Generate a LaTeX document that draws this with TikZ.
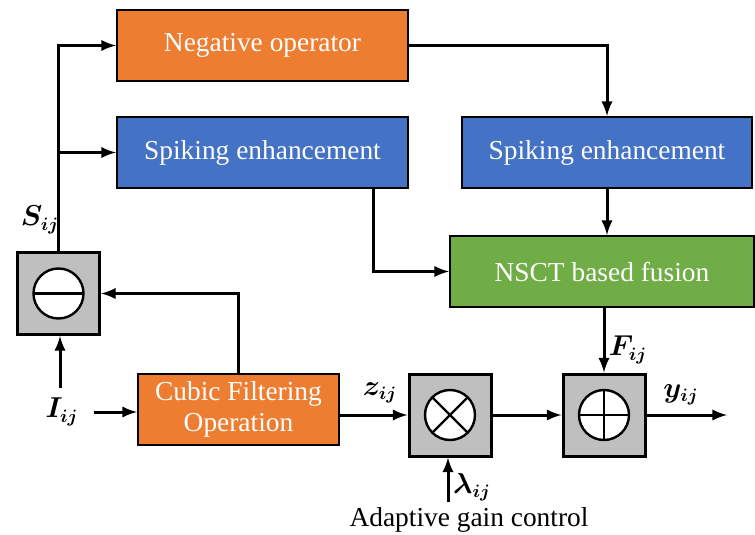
\documentclass[tikz,border=0pt]{standalone}
\usepackage{fontspec}
\setmainfont{Liberation Serif}
\usepackage{amsmath}
\usepackage{bm}
\usepackage{tikz}
\usetikzlibrary{calc}

\definecolor{boxorange}{HTML}{ED7D31}
\definecolor{boxblue}{HTML}{4472C4}
\definecolor{boxgreen}{HTML}{70AD47}
\definecolor{opgrey}{HTML}{BFBFBF}

\tikzset{
    block/.style={draw=black, line width=1pt, minimum height=35.5pt, inner sep=0pt,
        text=white, align=center, font=\rmfamily\fontsize{13.7}{15.5}\selectfont},
    opbox/.style={draw=black, line width=1.5pt, fill=opgrey, minimum size=41pt, inner sep=0pt},
    flow/.style={->, >=latex, line width=1.5pt},
    sym/.style={font=\fontsize{13.5}{15}\selectfont}
}

\begin{document}
\begin{tikzpicture}[x=0.5pt, y=-0.5pt]
        \useasboundingbox (0,0) rectangle (755,535);

        % upper blocks
        \node[block, fill=boxorange, minimum width=145.5pt] (neg) at (262.5, 45.5) {Negative operator};
        \node[block, fill=boxblue, minimum width=145.5pt] (spkL) at (262.5, 152.5) {Spiking enhancement};
        \node[block, fill=boxblue, minimum width=145pt] (spkR) at (607, 152.5) {Spiking enhancement};
        \node[block, fill=boxgreen, minimum width=152pt] (nsct) at (602, 271.5) {NSCT based fusion};

        % lower blocks
        \node[block, fill=boxorange, minimum width=100.5pt] (cubic) at (238.5, 409.5) {Cubic Filtering\\Operation};

        % operator boxes
        \node[opbox] (minus) at (58.5, 293.5) {};
        \node[opbox] (mult) at (450, 415) {};
        \node[opbox] (plus) at (604, 415) {};

        % symbols inside the operator boxes
        \draw[line width=1.2pt, fill=white] (minus.center) circle (12.5pt);
        \draw[line width=1.2pt] ($(minus.center)+(-25,0)$) -- ($(minus.center)+(25,0)$);
        \draw[line width=1.2pt, fill=white] (mult.center) circle (12.5pt);
        \draw[line width=1.2pt] ($(mult.center)+(-17.7,-17.7)$) -- ($(mult.center)+(17.7,17.7)$);
        \draw[line width=1.2pt] ($(mult.center)+(-17.7,17.7)$) -- ($(mult.center)+(17.7,-17.7)$);
        \draw[line width=1.2pt, fill=white] (plus.center) circle (12.5pt);
        \draw[line width=1.2pt] ($(plus.center)+(-25,0)$) -- ($(plus.center)+(25,0)$);
        \draw[line width=1.2pt] ($(plus.center)+(0,-25)$) -- ($(plus.center)+(0,25)$);

        % labels
        \node[sym] (S) at (40, 220) {$\bm{S_{ij}}$};
        \node[sym] (I) at (62, 412) {$\bm{I_{ij}}$};
        \node[sym] (z) at (380, 393) {$\bm{z_{ij}}$};
        \node[sym] (F) at (628, 350) {$\bm{F_{ij}}$};
        \node[sym] (y) at (681, 395) {$\bm{y_{ij}}$};
        \node[sym] (lam) at (472, 487) {$\bm{\lambda_{ij}}$};
        \node[font=\rmfamily\fontsize{13.7}{16}\selectfont] (agc) at (469, 520) {Adaptive gain control};

        \coordinate (iup) at (60, 388);
        \coordinate (lamin) at (448, 502);
        \coordinate (out) at (727, 415);

        % connections
        \draw[flow] (minus.north) |- (neg.west);
        \draw[flow] (minus.north |- spkL.west) -- (spkL.west);
        \draw[flow] (neg.east) -| (spkR.north);
        \draw[flow] (spkR.south) -- (spkR.south |- nsct.north);
        \draw[flow] ([xshift=-18pt]spkL.south east) |- (nsct.west);
        \draw[flow] (plus.north |- nsct.south) -- (plus.north);
        \draw[flow] (iup) -- (iup |- minus.south);
        \draw[flow] ([xshift=4pt]I.east) -- (cubic.west |- I.east);
        \draw[flow] (cubic.north) |- (minus.east);
        \draw[flow] (cubic.east |- mult.west) -- (mult.west);
        \draw[flow] (mult.east) -- (plus.west);
        \draw[flow] (plus.east) -- (out);
        \draw[flow] (lamin) -- (lamin |- mult.south);
    \end{tikzpicture}
\end{document}
